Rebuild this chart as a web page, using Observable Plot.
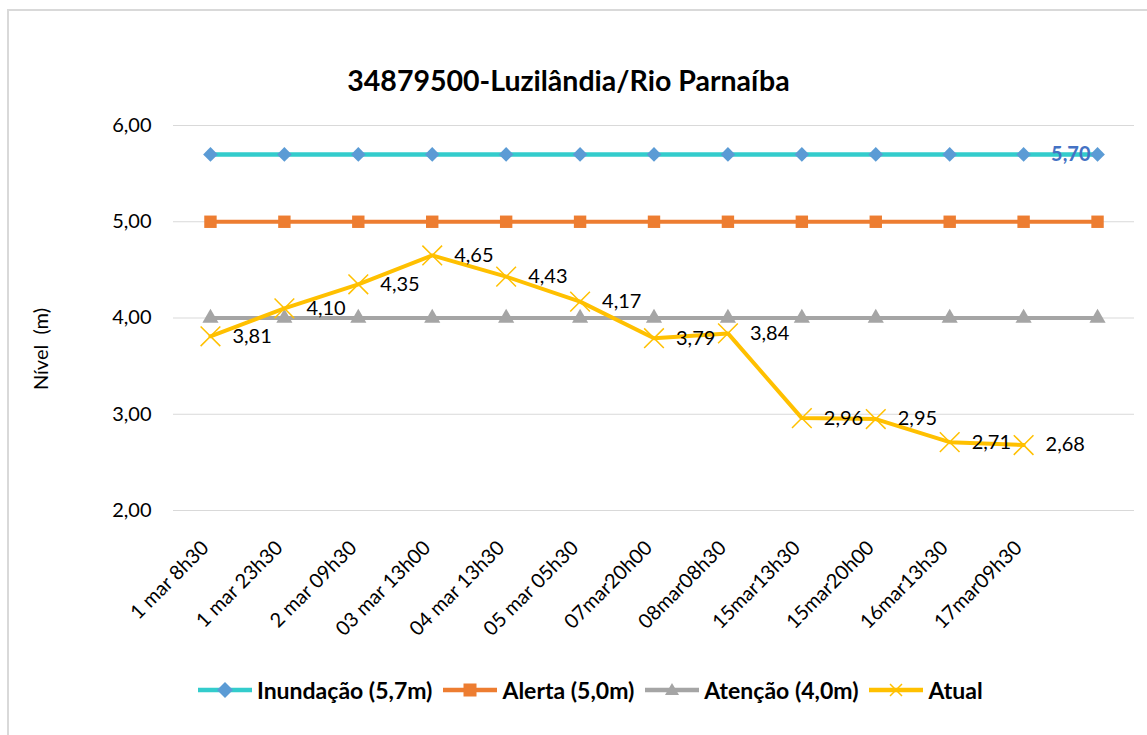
<!DOCTYPE html>
<html>
<head>
<meta charset="utf-8">
<script src="https://cdn.jsdelivr.net/npm/d3@7"></script>
<script src="https://cdn.jsdelivr.net/npm/@observablehq/plot@0.6"></script>
<style>
  html, body { margin: 0; padding: 0; background: #fff; }
  #wrap { position: relative; width: 1147px; height: 735px; overflow: hidden; font-family: Lato, "Open Sans", sans-serif; }
  #frame { position: absolute; left: 7px; top: 9px; width: 1200px; height: 800px; border-left: 2px solid #d9d9d9; border-top: 2px solid #d9d9d9; }
  #title { position: absolute; left: 0; width: 1147px; top: 63px; text-align: center; font-size: 28.5px; font-weight: bold; color: #000; padding-right: 10px; box-sizing: border-box; }
  #ylabel { position: absolute; left: 40px; top: 349px; transform: translate(-50%, -50%) rotate(-90deg); font-size: 20px; color: #000; white-space: pre; }
  #chart { position: absolute; left: 0; top: 0; }
  #legend { position: absolute; left: 198px; top: 676px; display: flex; align-items: center; font-size: 23px; font-weight: bold; color: #000; white-space: nowrap; }
  .item { display: flex; align-items: center; margin-right: 11px; }
  .item svg { margin-right: 5px; }
</style>
</head>
<body>
<div id="wrap">
  <div id="frame"></div>
  <div id="chart"></div>
  <div id="title">34879500-Luzilândia/Rio Parnaíba</div>
  <div id="ylabel"></div>
  <div id="legend"></div>
</div>
<script>
const categories = ["1 mar 8h30", "1 mar 23h30", "2 mar 09h30", "03 mar 13h00", "04 mar 13h30", "05 mar 05h30", "07mar20h00", "08mar08h30", "15mar13h30", "15mar20h00", "16mar13h30", "17mar09h30", ""];
const inundacao = [5.70, 5.70, 5.70, 5.70, 5.70, 5.70, 5.70, 5.70, 5.70, 5.70, 5.70, 5.70, 5.70];
const alerta = [5.00, 5.00, 5.00, 5.00, 5.00, 5.00, 5.00, 5.00, 5.00, 5.00, 5.00, 5.00, 5.00];
const atencao = [4.00, 4.00, 4.00, 4.00, 4.00, 4.00, 4.00, 4.00, 4.00, 4.00, 4.00, 4.00, 4.00];
const atual = [3.81, 4.10, 4.35, 4.65, 4.43, 4.17, 3.79, 3.84, 2.96, 2.95, 2.71, 2.68];
const yTicks = [2, 3, 4, 5, 6];
const yTitle = "Nível  (m)";
const seriesNames = ["Inundação (5,7m)", "Alerta (5,0m)", "Atenção (4,0m)", "Atual"];

const colors = { inund: "#33CCCC", inundMark: "#5B9BD5", alerta: "#ED7D31", atencao: "#A5A5A5", atual: "#FFC000" };
const fmt = v => v.toFixed(2).replace(".", ",");

const tInund = inundacao.map((v, i) => ({ x: categories[i], y: v }));
const tAlerta = alerta.map((v, i) => ({ x: categories[i], y: v }));
const tAtencao = atencao.map((v, i) => ({ x: categories[i], y: v }));
const tAtual = atual.map((v, i) => ({ x: categories[i], y: v }));
const lastInund = [tInund[tInund.length - 1]];

document.getElementById("ylabel").textContent = yTitle;

const chart = Plot.plot({
  width: 1147,
  height: 735,
  marginLeft: 173,
  marginRight: 13,
  marginTop: 125,
  marginBottom: 225,
  style: { fontFamily: "Lato, 'Open Sans', sans-serif", background: "transparent", overflow: "visible" },
  x: { type: "point", domain: categories, padding: 0.5, round: false, label: null },
  y: { domain: [2, 6], label: null },
  marks: [
    Plot.ruleY(yTicks, { stroke: "#d9d9d9", strokeWidth: 1.2 }),
    Plot.axisY({ ticks: yTicks, tickFormat: fmt, tickSize: 0, tickPadding: 22, fontSize: 20, fill: "#000", label: null }),
    Plot.axisX({ tickRotate: -45, tickSize: 0, tickPadding: 9, dx: -5, dy: 25, fontSize: 20, fill: "#000", label: null, tickFormat: d => d }),
    Plot.lineY(tInund, { x: "x", y: "y", stroke: colors.inund, strokeWidth: 4.5 }),
    Plot.dot(tInund, { x: "x", y: "y", symbol: "diamond2", r: 6.6, fill: colors.inundMark, stroke: "none" }),
    Plot.lineY(tAlerta, { x: "x", y: "y", stroke: colors.alerta, strokeWidth: 4 }),
    Plot.dot(tAlerta, { x: "x", y: "y", symbol: "square", r: 7, fill: colors.alerta, stroke: "none" }),
    Plot.lineY(tAtencao, { x: "x", y: "y", stroke: colors.atencao, strokeWidth: 4 }),
    Plot.dot(tAtencao, { x: "x", y: "y", symbol: "triangle", r: 6, fill: colors.atencao, stroke: "none" }),
    Plot.lineY(tAtual, { x: "x", y: "y", stroke: colors.atual, strokeWidth: 4 }),
    Plot.dot(tAtual, { x: "x", y: "y", symbol: "times", r: 9, stroke: colors.atual, strokeWidth: 1.5, fill: "none" }),
    Plot.text(tAtual, { x: "x", y: "y", text: d => fmt(d.y), textAnchor: "start", dx: 22, fontSize: 20, fill: "#000" }),
    Plot.text(lastInund, { x: "x", y: "y", text: d => fmt(d.y), textAnchor: "end", dx: -7, fontSize: 20, fontWeight: "bold", fill: "#4472C4" })
  ]
});
document.getElementById("chart").appendChild(chart);

// Legend
const legend = document.getElementById("legend");
const swatches = [
  { line: colors.inund, mark: `<path d="M27,2 L35,10 L27,18 L19,10 Z" fill="${colors.inundMark}"/>` },
  { line: colors.alerta, mark: `<rect x="20.5" y="3.5" width="13" height="13" fill="${colors.alerta}"/>` },
  { line: colors.atencao, mark: `<path d="M27,3 L34,15 L20,15 Z" fill="${colors.atencao}"/>` },
  { line: colors.atual, mark: `<path d="M21,4 L33,16 M33,4 L21,16" stroke="${colors.atual}" stroke-width="1.5"/>` }
];
seriesNames.forEach((name, i) => {
  const it = document.createElement("div");
  it.className = "item";
  it.innerHTML = `<svg width="54" height="20"><line x1="0" y1="10" x2="54" y2="10" stroke="${swatches[i].line}" stroke-width="4.5"/>${swatches[i].mark}</svg><span>${name}</span>`;
  legend.appendChild(it);
});
</script>
</body>
</html>
